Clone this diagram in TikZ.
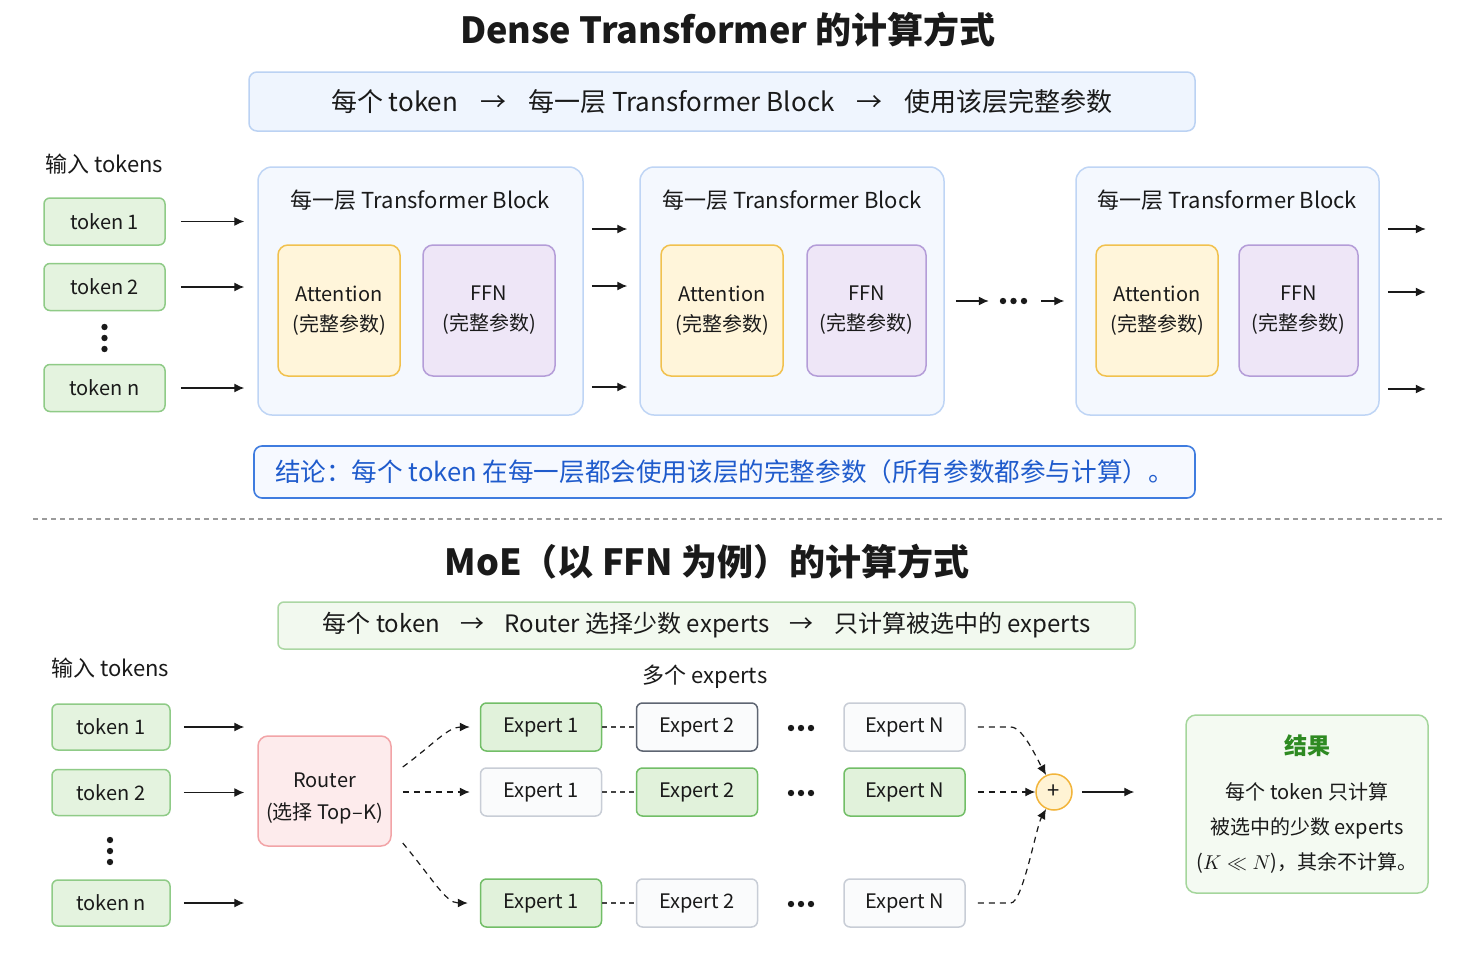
\documentclass[tikz,border=0pt]{standalone}
\usepackage{fontspec}
\setmainfont{Noto Sans CJK SC}
\usepackage{xcolor}
\usepackage{tikz}
\usetikzlibrary{positioning,arrows.meta,calc}
\definecolor{inkdark}{HTML}{1A1A1A}
\definecolor{bannerfill}{HTML}{EFF5FE}
\definecolor{bannerline}{HTML}{BBD2F3}
\definecolor{blockfill}{HTML}{F4F8FE}
\definecolor{blockline}{HTML}{BFD5F5}
\definecolor{attnfill}{HTML}{FFF5DA}
\definecolor{attnline}{HTML}{F1C14E}
\definecolor{ffnfill}{HTML}{EEE6F7}
\definecolor{ffnline}{HTML}{B49DD8}
\definecolor{tokfill}{HTML}{E4F3DF}
\definecolor{tokline}{HTML}{8FCB87}
\definecolor{conclfill}{HTML}{F6F9FF}
\definecolor{conclline}{HTML}{3F7CDF}
\definecolor{concltext}{HTML}{1F5BCC}
\definecolor{sepgrey}{HTML}{9B9B9B}
\definecolor{moefill}{HTML}{F2F9EF}
\definecolor{moeline}{HTML}{ABD7A3}
\definecolor{routerfill}{HTML}{FDEBEC}
\definecolor{routerline}{HTML}{F2A4A7}
\definecolor{expfill}{HTML}{E1F2DB}
\definecolor{expline}{HTML}{72BE67}
\definecolor{offfill}{HTML}{FAFBFC}
\definecolor{offline}{HTML}{C8CDD6}
\definecolor{offdark}{HTML}{5E6572}
\definecolor{plusfill}{HTML}{FFF3D4}
\definecolor{plusline}{HTML}{F2B43A}
\definecolor{resfill}{HTML}{F4FAF2}
\definecolor{resline}{HTML}{A5D69C}
\definecolor{restitle}{HTML}{2E8A22}
\definecolor{linkgrey}{HTML}{444444}
\newcommand{\ra}{\hspace{0.85em}→\hspace{0.85em}}

\begin{document}
\begin{tikzpicture}[
    x=0.5pt, y=-0.5pt,
    every node/.style={font=\fontsize{10}{15}\selectfont, align=center, inner sep=0pt, text=inkdark},
    headline/.style={font=\fontsize{18}{21}\selectfont\bfseries},
    lbl/.style={font=\fontsize{11}{13}\selectfont},
    banner/.style={draw=bannerline, fill=bannerfill, line width=0.75pt, rounded corners=4pt,
      minimum width=473pt, minimum height=29.5pt, font=\fontsize{13}{15}\selectfont},
    moebanner/.style={draw=moeline, fill=moefill, line width=0.75pt, rounded corners=3pt,
      minimum width=428.5pt, minimum height=23.5pt, font=\fontsize{12}{14}\selectfont},
    tokbox/.style={draw=tokline, fill=tokfill, line width=0.75pt, rounded corners=3pt,
      minimum width=60.5pt, minimum height=23.5pt},
    blockbox/.style={draw=blockline, fill=blockfill, line width=0.75pt, rounded corners=7pt,
      minimum height=124pt},
    blocktitle/.style={font=\fontsize{11}{13}\selectfont},
    attnbox/.style={draw=attnline, fill=attnfill, line width=0.75pt, rounded corners=5pt,
      minimum width=61pt, minimum height=65.5pt},
    ffnbox/.style={draw=ffnline, fill=ffnfill, line width=0.75pt, rounded corners=5pt,
      minimum height=65.5pt},
    concl/.style={draw=conclline, fill=conclfill, line width=0.8pt, rounded corners=4pt,
      minimum width=470.5pt, minimum height=26pt, text=concltext, font=\fontsize{12.8}{15}\selectfont},
    routerbox/.style={draw=routerline, fill=routerfill, line width=0.75pt, rounded corners=5pt,
      minimum width=66.5pt, minimum height=55pt},
    expon/.style={draw=expline, fill=expfill, line width=0.75pt, rounded corners=3pt,
      minimum width=60.5pt, minimum height=24pt},
    expoff/.style={draw=offline, fill=offfill, line width=0.75pt, rounded corners=3pt,
      minimum width=60.5pt, minimum height=24pt},
    plusnode/.style={circle, draw=plusline, fill=plusfill, line width=0.75pt, minimum size=18pt,
      font=\fontsize{11}{11}\selectfont},
    resbox/.style={draw=resline, fill=resfill, line width=0.75pt, rounded corners=5pt,
      minimum width=121pt, minimum height=89pt, font=\fontsize{10}{17.5}\selectfont},
    flow/.style={-{Latex[length=5pt, width=4.5pt]}, line width=0.65pt, inkdark},
    route/.style={-{Latex[length=5pt, width=4.5pt]}, line width=0.6pt, inkdark, dash pattern=on 3pt off 2.5pt},
    link/.style={line width=0.6pt, linkgrey, dash pattern=on 2.5pt off 2pt},
    sepline/.style={line width=0.6pt, sepgrey, dash pattern=on 2.5pt off 2pt}
  ]

  \useasboundingbox[fill=white] (0,0) rectangle (1478,958);

  % Dense Transformer
  \node[headline] (title1) at (728,30) {Dense Transformer 的计算方式};
  \node[banner] (ban1) at (722,101.5) {每个 token\ra 每一层 Transformer Block\ra 使用该层完整参数};

  \node[lbl, anchor=west] (in1) at (45,164) {输入 tokens};
  \node[tokbox] (t1) at (104.5,221.5) {token 1};
  \node[tokbox, below=8.5pt of t1] (t2) {token 2};
  \node[tokbox] (tn) at (104.5,388) {token n};
  \foreach \yy in {327,338,349} {\fill[inkdark] (104.5,\yy) circle (1.6pt);}

  \foreach \n/\bx/\bw/\ax/\fx/\fw in {1/420.5/325/339/489/132, 2/792/304/722/866.5/119, 3/1227.5/303/1157/1298.5/119} {
    \node[blockbox, minimum width=\bw*0.5pt] (b\n) at (\bx,291) {};
    \node[blocktitle] (bt\n) at ($(b\n.north)+(0,34)$) {每一层 Transformer Block};
    \node[attnbox] (a\n) at (\ax,310.5) {Attention\\(完整参数)};
    \node[ffnbox, minimum width=\fw*0.5pt] (f\n) at (\fx,310.5) {FFN\\(完整参数)};
  }

  \foreach \t in {t1,t2,tn} {\draw[flow] ($(\t.east)+(15,0)$) -- ($(b1.west |- \t)+(-13,0)$);}
  \foreach \yy in {229,286,387} {\draw[flow] ($(b1.east |- 0,\yy)+(8,0)$) -- ($(b2.west |- 0,\yy)+(-12,0)$);}
  \draw[flow] ($(b2.east |- 0,301)+(11,0)$) -- ($(b2.east |- 0,301)+(44,0)$);
  \foreach \xx in {1003,1013.5,1024} {\fill[inkdark] (\xx,301) circle (1.6pt);}
  \draw[flow] ($(b3.west |- 0,301)+(-34,0)$) -- ($(b3.west |- 0,301)+(-11,0)$);
  \foreach \yy in {229,292,389} {\draw[flow] ($(b3.east |- 0,\yy)+(8,0)$) -- ++(38,0);}

  \node[concl] (con) at (724.5,472) {结论：每个 token 在每一层都会使用该层的完整参数（所有参数都参与计算）。};

  \draw[sepline] (33,519) -- (1443,519);

  % MoE
  \node[headline] (title2) at (707,562) {MoE（以 FFN 为例）的计算方式};
  \node[moebanner] (ban2) at (706.5,625.5) {每个 token\ra Router 选择少数 experts\ra 只计算被选中的 experts};

  \node[lbl, anchor=west] (in2) at (51,668) {输入 tokens};
  \node[tokbox, minimum width=59pt, minimum height=23pt] (s1) at (111,727) {token 1};
  \node[tokbox, minimum width=59pt, minimum height=23pt, below=9pt of s1] (s2) {token 2};
  \node[tokbox, minimum width=59pt, minimum height=23pt] (sn) at (111,903) {token n};
  \foreach \yy in {840,851,862} {\fill[inkdark] (110,\yy) circle (1.6pt);}

  \node[routerbox] (router) at (324.5,791) {};
  \node[font=\fontsize{10}{16}\selectfont] (routertxt) at ($(router)+(0,7)$) {Router\\(选择 Top--K)};
  \foreach \t in {s1,s2,sn} {\draw[flow] ($(\t.east)+(13,0)$) -- ($(router.west |- \t)+(-13,0)$);}

  \node[lbl] (multi) at (705,677) {多个 experts};
  \node[expon]                (e11) at (541,727)   {Expert 1};
  \node[expoff, draw=offdark] (e12) at (697,727)   {Expert 2};
  \node[expoff]               (e13) at (904.5,727) {Expert N};
  \node[expoff]               (e21) at (541,792)   {Expert 1};
  \node[expon]                (e22) at (697,792)   {Expert 2};
  \node[expon]                (e23) at (904.5,792) {Expert N};
  \node[expon]                (e31) at (541,903)   {Expert 1};
  \node[expoff]               (e32) at (697,903)   {Expert 2};
  \node[expoff]               (e33) at (904.5,903) {Expert N};

  \foreach \r/\yy in {1/728,2/793,3/904} {
    \draw[link] (e\r1) -- (e\r2);
    \foreach \dx in {-10,0,10} {\fill[inkdark] (801+\dx,\yy) circle (1.6pt);}
  }

  \draw[route] ($(router.east)+(11,-24)$) .. controls +(30,-22) and +(-22,0) .. ($(e11.west)+(-10,0)$);
  \draw[route] ($(router.east)+(11,1)$) -- ($(e21.west)+(-10,0)$);
  \draw[route] ($(router.east)+(11,52)$) .. controls +(30,36) and +(-22,0) .. ($(e31.west)+(-12,0)$);

  \node[plusnode] (plus) at (1054,792) {+};
  \draw[route] ($(e13.east)+(12,0)$) -- ++(33,0) .. controls +(12,0) and +(-10,-18) .. (plus.115);
  \draw[route] ($(e23.east)+(12,0)$) -- (plus.west);
  \draw[route] ($(e33.east)+(12,0)$) -- ++(33,0) .. controls +(12,0) and +(-10,18) .. (plus.245);

  \node[resbox] (res) at (1307,804)
    {{\fontsize{11.5}{14}\selectfont\bfseries\color{restitle}结果}\\[5pt]
     每个 token 只计算\\ 被选中的少数 experts\\ ($K \ll N$)，其余不计算。};
  \draw[flow] ($(plus.east)+(9,0)$) -- ($(res.west |- plus)+(-51,0)$);

\end{tikzpicture}
\end{document}
